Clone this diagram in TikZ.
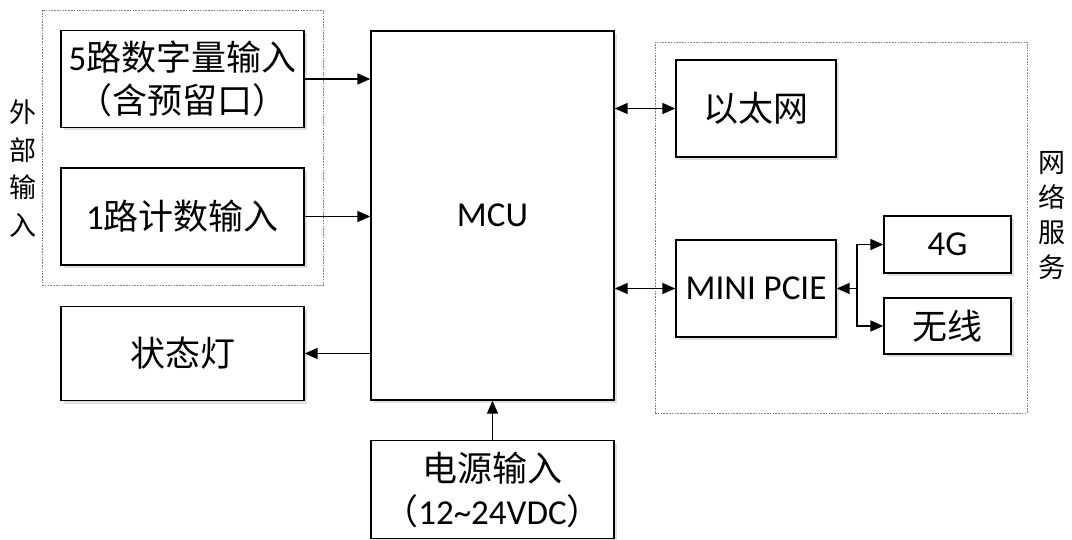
\documentclass[tikz,border=0pt]{standalone}
\usepackage{fontspec}
\setmainfont{Carlito}
\newfontfamily\cjk{Noto Sans CJK SC}
\usetikzlibrary{arrows.meta,shadows}
\begin{document}
\begin{tikzpicture}[x=1pt,y=-1pt,
 box/.style={draw=black, line width=1.4pt, fill=white, inner sep=0pt, align=center,
   font=\fontsize{35}{43}\selectfont,
   drop shadow={opacity=0.25, shadow xshift=3pt, shadow yshift=-3pt}},
 arr/.style={line width=1.6pt, -{Triangle[length=13pt,width=11pt]}},
 darr/.style={line width=1.6pt, {Triangle[length=13pt,width=11pt]}-{Triangle[length=13pt,width=11pt]}},
 grp/.style={draw=gray, line width=0.8pt, dash pattern=on 1.6pt off 1.2pt, inner sep=0pt},
 side/.style={font=\cjk\fontsize{27}{37.5}\selectfont, align=center}]
\useasboundingbox (0,0) rectangle (1072,540);
% groups
\node[grp, minimum width=281pt, minimum height=275pt] (gin) at (182.5,147.5) {};
\node[grp, minimum width=372pt, minimum height=371pt] (gnet) at (841,227.5) {};
% side labels
\node[side] (lin) at (23,168.5) {外\\部\\输\\入};
\node[side, font=\cjk\fontsize{27}{35}\selectfont] (lnet) at (1052,216) {网\\络\\服\\务};
% boxes
\node[box, minimum width=243pt, minimum height=97pt] (in5) at (182.5,79) {5{\cjk 路数字量输入}\\{\cjk （含预留口）}};
\node[box, minimum width=243pt, minimum height=97pt] (in1) at (182.5,216.5) {1{\cjk 路计数输入}};
\node[box, minimum width=243pt, minimum height=94pt] (led) at (182.5,353.5) {{\cjk 状态灯}};
\node[box, minimum width=243pt, minimum height=369pt] (mcu) at (492.5,215.5) {MCU};
\node[box, minimum width=243pt, minimum height=98pt] (pwr) at (492.5,489.5) {{\cjk 电源输入}\\{\cjk （}12\textasciitilde24VDC{\cjk ）}};
\node[box, minimum width=160pt, minimum height=97pt] (eth) at (756,108.5) {{\cjk 以太网}};
\node[box, minimum width=160pt, minimum height=97pt] (pcie) at (756,288.5) {MINI PCIE};
\node[box, minimum width=127pt, minimum height=57pt] (g4) at (947.5,244.5) {4G};
\node[box, minimum width=127pt, minimum height=56pt] (wl) at (947.5,326) {{\cjk 无线}};
% connectors
\draw[arr] (in5.east) -- (in5.east -| mcu.west);
\draw[arr] (in1.east) -- (in1.east -| mcu.west);
\draw[arr] (mcu.west |- led.east) -- (led.east);
\draw[arr] (pwr.north) -- (mcu.south);
\draw[darr] (mcu.east |- eth.west) -- (eth.west);
\draw[darr] (mcu.east |- pcie.west) -- (pcie.west);
\coordinate (j) at (857,288.5);
\draw[arr] (j) -- (pcie.east);
\draw[arr] (j) |- (g4.west);
\draw[arr] (j) |- (wl.west);
\end{tikzpicture}
\end{document}
